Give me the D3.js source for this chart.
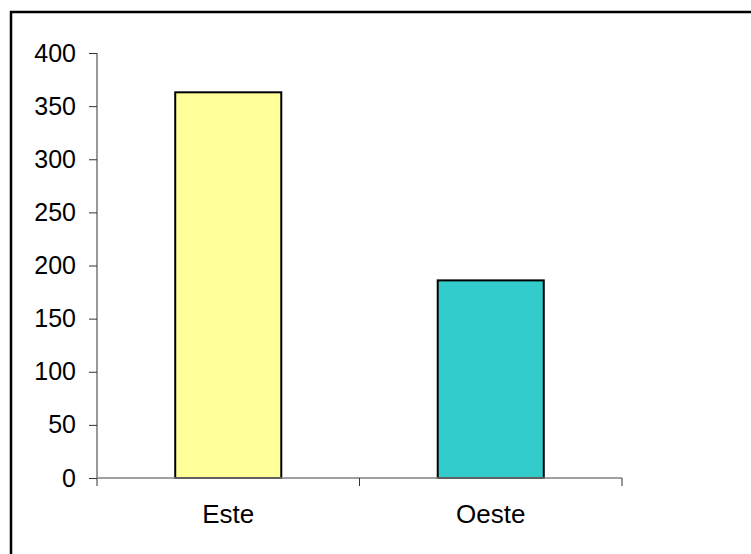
<!DOCTYPE html>
<html>
<head>
<meta charset="utf-8">
<script src="https://d3js.org/d3.v7.min.js"></script>
<style>
  body { margin: 0; background: #fff; }
  svg { display: block; font-family: "Liberation Sans", Arial, sans-serif; }
</style>
</head>
<body>
<div id="chart"></div>
<script>
// data
const categories = ['Este', 'Oeste'];
const values = [363, 186];
const barColors = ['#FFFF99', '#33CCCC'];
const yTicks = [0, 50, 100, 150, 200, 250, 300, 350, 400];

const width = 751, height = 554;
const margin = {top: 53, right: 129, bottom: 76, left: 97};
const plotW = width - margin.left - margin.right;
const plotH = height - margin.top - margin.bottom;

const svg = d3.select('#chart').append('svg')
  .attr('width', width)
  .attr('height', height);

// outer frame, runs off the right and bottom edges
svg.append('rect')
  .attr('x', 11).attr('y', 12)
  .attr('width', 760).attr('height', 560)
  .attr('fill', 'none')
  .attr('stroke', '#000')
  .attr('stroke-width', 2.5);

const g = svg.append('g')
  .attr('transform', `translate(${margin.left},${margin.top})`);

const x = d3.scaleBand().domain(categories).range([0, plotW]).paddingInner(0).paddingOuter(0);
const y = d3.scaleLinear().domain([0, 400]).range([plotH, 0]);

// bars
const barW = x.bandwidth() * 0.404;
g.selectAll('.bar')
  .data(categories)
  .join('rect')
  .attr('class', 'bar')
  .attr('x', d => x(d) + (x.bandwidth() - barW) / 2)
  .attr('y', (d, i) => y(values[i]))
  .attr('width', barW)
  .attr('height', (d, i) => y(0) - y(values[i]))
  .attr('fill', (d, i) => barColors[i])
  .attr('stroke', '#000')
  .attr('stroke-width', 2);

// y axis
const yAxis = g.append('g')
  .call(d3.axisLeft(y).tickValues(yTicks).tickSize(8).tickPadding(13).tickSizeOuter(0));
yAxis.select('.domain').attr('stroke', '#333').attr('d', `M0,0V${plotH + 8}`);
yAxis.selectAll('.tick line').attr('stroke', '#333');
yAxis.selectAll('.tick text')
  .attr('font-size', 25)
  .attr('fill', '#000')
  .attr('font-family', '"Liberation Sans", Arial, sans-serif');

// x axis
const xAxis = g.append('g')
  .attr('transform', `translate(0,${plotH})`);
xAxis.append('line')
  .attr('x1', 0).attr('x2', plotW)
  .attr('stroke', '#808080').attr('stroke-width', 1.5);
xAxis.selectAll('.xt')
  .data([categories[1], null])
  .join('line')
  .attr('class', 'xt')
  .attr('x1', d => d ? x(d) : plotW)
  .attr('x2', d => d ? x(d) : plotW)
  .attr('y1', 0).attr('y2', 8)
  .attr('stroke', '#333');
xAxis.selectAll('.xl')
  .data(categories)
  .join('text')
  .attr('class', 'xl')
  .attr('x', d => x(d) + x.bandwidth() / 2)
  .attr('y', 45)
  .attr('text-anchor', 'middle')
  .attr('font-size', 26)
  .attr('fill', '#000')
  .text(d => d);
</script>
</body>
</html>
